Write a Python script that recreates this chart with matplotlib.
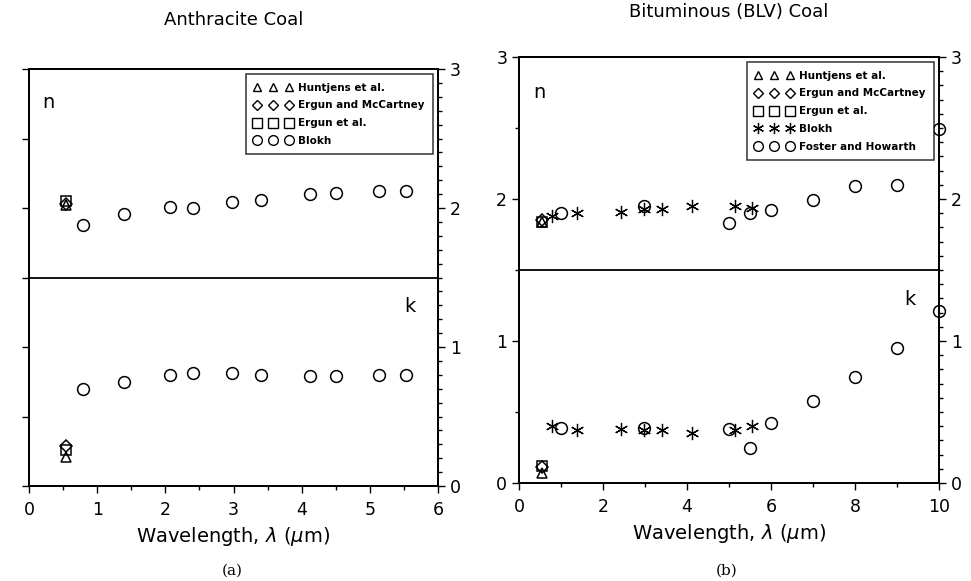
import matplotlib
matplotlib.use("Agg")
import matplotlib.pyplot as plt
from matplotlib.lines import Line2D
from matplotlib.ticker import MultipleLocator

# ---------------- data: Anthracite (a) ----------------
a_huntjens_x = [0.55]
a_huntjens_n = [2.02]
a_huntjens_k = [0.21]
a_ergmc_x = [0.55]
a_ergmc_n = [2.03]
a_ergmc_k = [0.29]
a_ergun_x = [0.55]
a_ergun_n = [2.05]
a_ergun_k = [0.26]
a_blokh_x = [0.79, 1.39, 2.07, 2.41, 2.98, 3.40, 4.12, 4.51, 5.13, 5.53]
a_blokh_n = [1.88, 1.96, 2.01, 2.00, 2.04, 2.06, 2.10, 2.11, 2.12, 2.12]
a_blokh_k = [0.70, 0.75, 0.80, 0.81, 0.81, 0.80, 0.79, 0.79, 0.80, 0.80]

# ---------------- data: Bituminous BLV (b) ----------------
b_huntjens_x = [0.54]
b_huntjens_n = [1.84]
b_huntjens_k = [0.07]
b_ergmc_x = [0.54]
b_ergmc_n = [1.85]
b_ergmc_k = [0.11]
b_ergun_x = [0.54]
b_ergun_n = [1.84]
b_ergun_k = [0.12]
b_blokh_x = [0.79, 1.39, 2.42, 2.97, 3.41, 4.12, 5.15, 5.54]
b_blokh_n = [1.88, 1.90, 1.91, 1.93, 1.93, 1.95, 1.95, 1.94]
b_blokh_k = [0.40, 0.37, 0.38, 0.37, 0.37, 0.35, 0.37, 0.40]
b_foster_x = [1.0, 2.97, 4.99, 5.5, 6.0, 7.0, 8.0, 9.0, 10.0]
b_foster_n = [1.90, 1.95, 1.83, 1.90, 1.92, 1.99, 2.09, 2.10, 2.49]
b_foster_k = [0.39, 0.39, 0.38, 0.25, 0.42, 0.58, 0.75, 0.95, 1.21]

titles = ["Anthracite Coal", "Bituminous (BLV) Coal"]
xlabel = "Wavelength, $\\lambda$ ($\\mu$m)"
panel_labels = ["(a)", "(b)"]

fig = plt.figure(figsize=(9.71, 5.81), dpi=100)
W, H = 971.0, 581.0

def ax_at(x0, y0, x1, y1):
    return fig.add_axes([x0 / W, 1 - y1 / H, (x1 - x0) / W, (y1 - y0) / H])

axA = ax_at(29, 69, 438, 486)
axB = ax_at(519, 57, 939, 483)

ms = 8.5
mew = 1.1
star = (6, 2, 0)
sty = dict(ls="none", mfc="none", mec="black", color="black", clip_on=False, zorder=5)

def draw(ax, x, n, k, marker, size, w=mew):
    ax.plot(x, n, marker=marker, ms=size, mew=w, **sty)
    ax.plot(x, k, marker=marker, ms=size, mew=w, **sty)

# panel a
draw(axA, a_huntjens_x, a_huntjens_n, a_huntjens_k, "^", 7.5)
draw(axA, a_ergmc_x, a_ergmc_n, a_ergmc_k, "D", 6)
draw(axA, a_ergun_x, a_ergun_n, a_ergun_k, "s", 7.5)
draw(axA, a_blokh_x, a_blokh_n, a_blokh_k, "o", ms)

# panel b
draw(axB, b_huntjens_x, b_huntjens_n, b_huntjens_k, "^", 7.5)
draw(axB, b_ergmc_x, b_ergmc_n, b_ergmc_k, "D", 6)
draw(axB, b_ergun_x, b_ergun_n, b_ergun_k, "s", 7.5)
draw(axB, b_blokh_x, b_blokh_n, b_blokh_k, star, 9.5, 0.9)
draw(axB, b_foster_x, b_foster_n, b_foster_k, "o", ms)

for ax, xmax, xmaj, xmin in [(axA, 6, 1, 0.5), (axB, 10, 2, 1)]:
    ax.set_xlim(0, xmax)
    ax.set_ylim(0, 3)
    ax.axhline(1.5, color="black", lw=1.3)
    ax.xaxis.set_major_locator(MultipleLocator(xmaj))
    ax.xaxis.set_minor_locator(MultipleLocator(xmin))
    ax.tick_params(axis="x", which="both", direction="out", top=False, labelsize=12.5,
                   pad=6)
    ax.tick_params(axis="x", which="major", length=5, width=1)
    ax.tick_params(axis="x", which="minor", length=3, width=1)
    ax.yaxis.set_major_locator(MultipleLocator(1))
    ax.yaxis.set_minor_locator(MultipleLocator(0.5))
    ax.tick_params(axis="y", which="major", direction="out", length=5, width=1, labelsize=12.5)
    ax.tick_params(axis="y", which="minor", direction="out", length=3, width=1)
    for s in ax.spines.values():
        s.set_linewidth(1.3)
    ax.set_xlabel(xlabel, fontsize=14, labelpad=4)
    # right-hand axis
    ax2 = ax.twinx()
    ax2.set_ylim(0, 3)
    ax2.yaxis.set_major_locator(MultipleLocator(1))
    ax2.yaxis.set_minor_locator(MultipleLocator(0.1))
    ax2.tick_params(axis="y", which="major", direction="out", length=5, width=1, labelsize=12.5)
    ax2.tick_params(axis="y", which="minor", direction="out", length=3, width=1)
    for s in ax2.spines.values():
        s.set_linewidth(1.3)

axA.tick_params(axis="y", which="both", labelleft=False, length=5)

axA.set_title(titles[0], fontsize=13, pad=32)
axB.set_title(titles[1], fontsize=13, pad=29)

# n / k annotations
axA.text(0.29, 2.76, "n", fontsize=14, ha="center", va="center")
axA.text(5.59, 1.29, "k", fontsize=14, ha="center", va="center")
axB.text(0.48, 2.75, "n", fontsize=14, ha="center", va="center")
axB.text(9.31, 1.29, "k", fontsize=14, ha="center", va="center")

fig.text(232 / W, 1 - 571 / H, panel_labels[0], fontsize=11, family="DejaVu Serif", ha="center", va="center")
fig.text(727 / W, 1 - 571 / H, panel_labels[1], fontsize=11, family="DejaVu Serif", ha="center", va="center")

def mk(marker, size, w=1.0):
    return Line2D([0], [0], marker=marker, ls="none", mfc="none", mec="black",
                  mew=w, ms=size)

hA = [mk("^", 6), mk("D", 5), mk("s", 6.5), mk("o", 7)]
lA = ["Huntjens et al.", "Ergun and McCartney", "Ergun et al.", "Blokh"]
hB = [mk("^", 6), mk("D", 5), mk("s", 6.5), mk(star, 8, 0.9), mk("o", 7)]
lB = ["Huntjens et al.", "Ergun and McCartney", "Ergun et al.", "Blokh", "Foster and Howarth"]

for ax, h, l in [(axA, hA, lA), (axB, hB, lB)]:
    leg = ax.legend(h, l, loc="upper right", numpoints=3, handlelength=3.6,
                    prop=dict(size=7.5, weight="bold"), frameon=True, fancybox=False,
                    edgecolor="black", borderpad=0.8, labelspacing=0.75,
                    handletextpad=0.6, borderaxespad=0.5)
    leg.get_frame().set_linewidth(1.1)
    leg.set_zorder(10)

fig.savefig("out.png", dpi=100)
